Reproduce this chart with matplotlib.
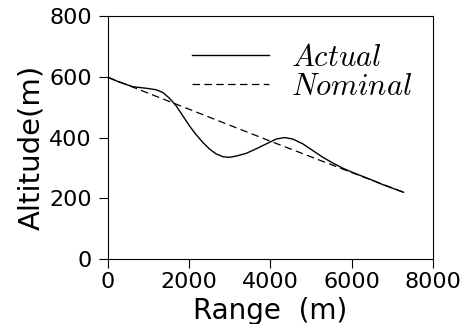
"""Altitude profile: actual vs nominal trajectory over range."""

import matplotlib
matplotlib.use("Agg")
import matplotlib.pyplot as plt

# Actual trajectory (range m, altitude m)
actual_range = [0, 287, 615, 944, 1190, 1354, 1518, 1682, 1846, 2010, 2174,
                2338, 2503, 2667, 2831, 2995, 3159, 3405, 3651, 3897, 4144,
                4349, 4554, 4800, 5046, 5292, 5538, 5785, 6030, 6277, 6523,
                6769, 7015, 7277]
actual_alt = [598, 582, 567, 562, 557, 548, 529, 504, 471, 438, 409,
              384, 362, 346, 337, 335, 339, 348, 363, 379, 395,
              400, 395, 379, 357, 335, 316, 299, 285, 272, 259,
              245, 233, 220]

# Nominal trajectory
nominal_range = [0, 2000, 4000, 6000, 7277]
nominal_alt = [598, 493, 388, 285, 220]

x_ticks = [0, 2000, 4000, 6000, 8000]
y_ticks = [0, 200, 400, 600, 800]

plt.rcParams["mathtext.fontset"] = "cm"
plt.rcParams["font.family"] = "DejaVu Sans"

fig = plt.figure(figsize=(4.67, 3.24), dpi=100)
ax = fig.add_axes([0.231, 0.200, 0.696, 0.751])

ax.plot(actual_range, actual_alt, color="black", lw=1.0, label=r"$Actual$")
ax.plot(nominal_range, nominal_alt, color="black", lw=0.9, ls=(0, (6, 3.5)),
        label=r"$Nominal$")

ax.set_xlim(0, 8000)
ax.set_ylim(0, 800)
ax.set_xticks(x_ticks)
ax.set_yticks(y_ticks)
ax.tick_params(direction="out", length=6.5, width=0.8, labelsize=16)
ax.tick_params(axis="x", pad=3)
ax.tick_params(axis="y", pad=5)
for s in ax.spines.values():
    s.set_linewidth(0.8)

ax.set_xlabel("Range  (m)", fontsize=20, labelpad=3)
ax.set_ylabel("Altitude(m)", fontsize=21)
ax.yaxis.set_label_coords(-0.193, 0.459)

ax.legend(loc="upper left", bbox_to_anchor=(0.26, 0.89), frameon=False,
          fontsize=22, handlelength=2.5, handletextpad=0.72,
          labelspacing=0.0, borderpad=0, borderaxespad=0)

fig.savefig("out.png", dpi=100)
plt.close(fig)
